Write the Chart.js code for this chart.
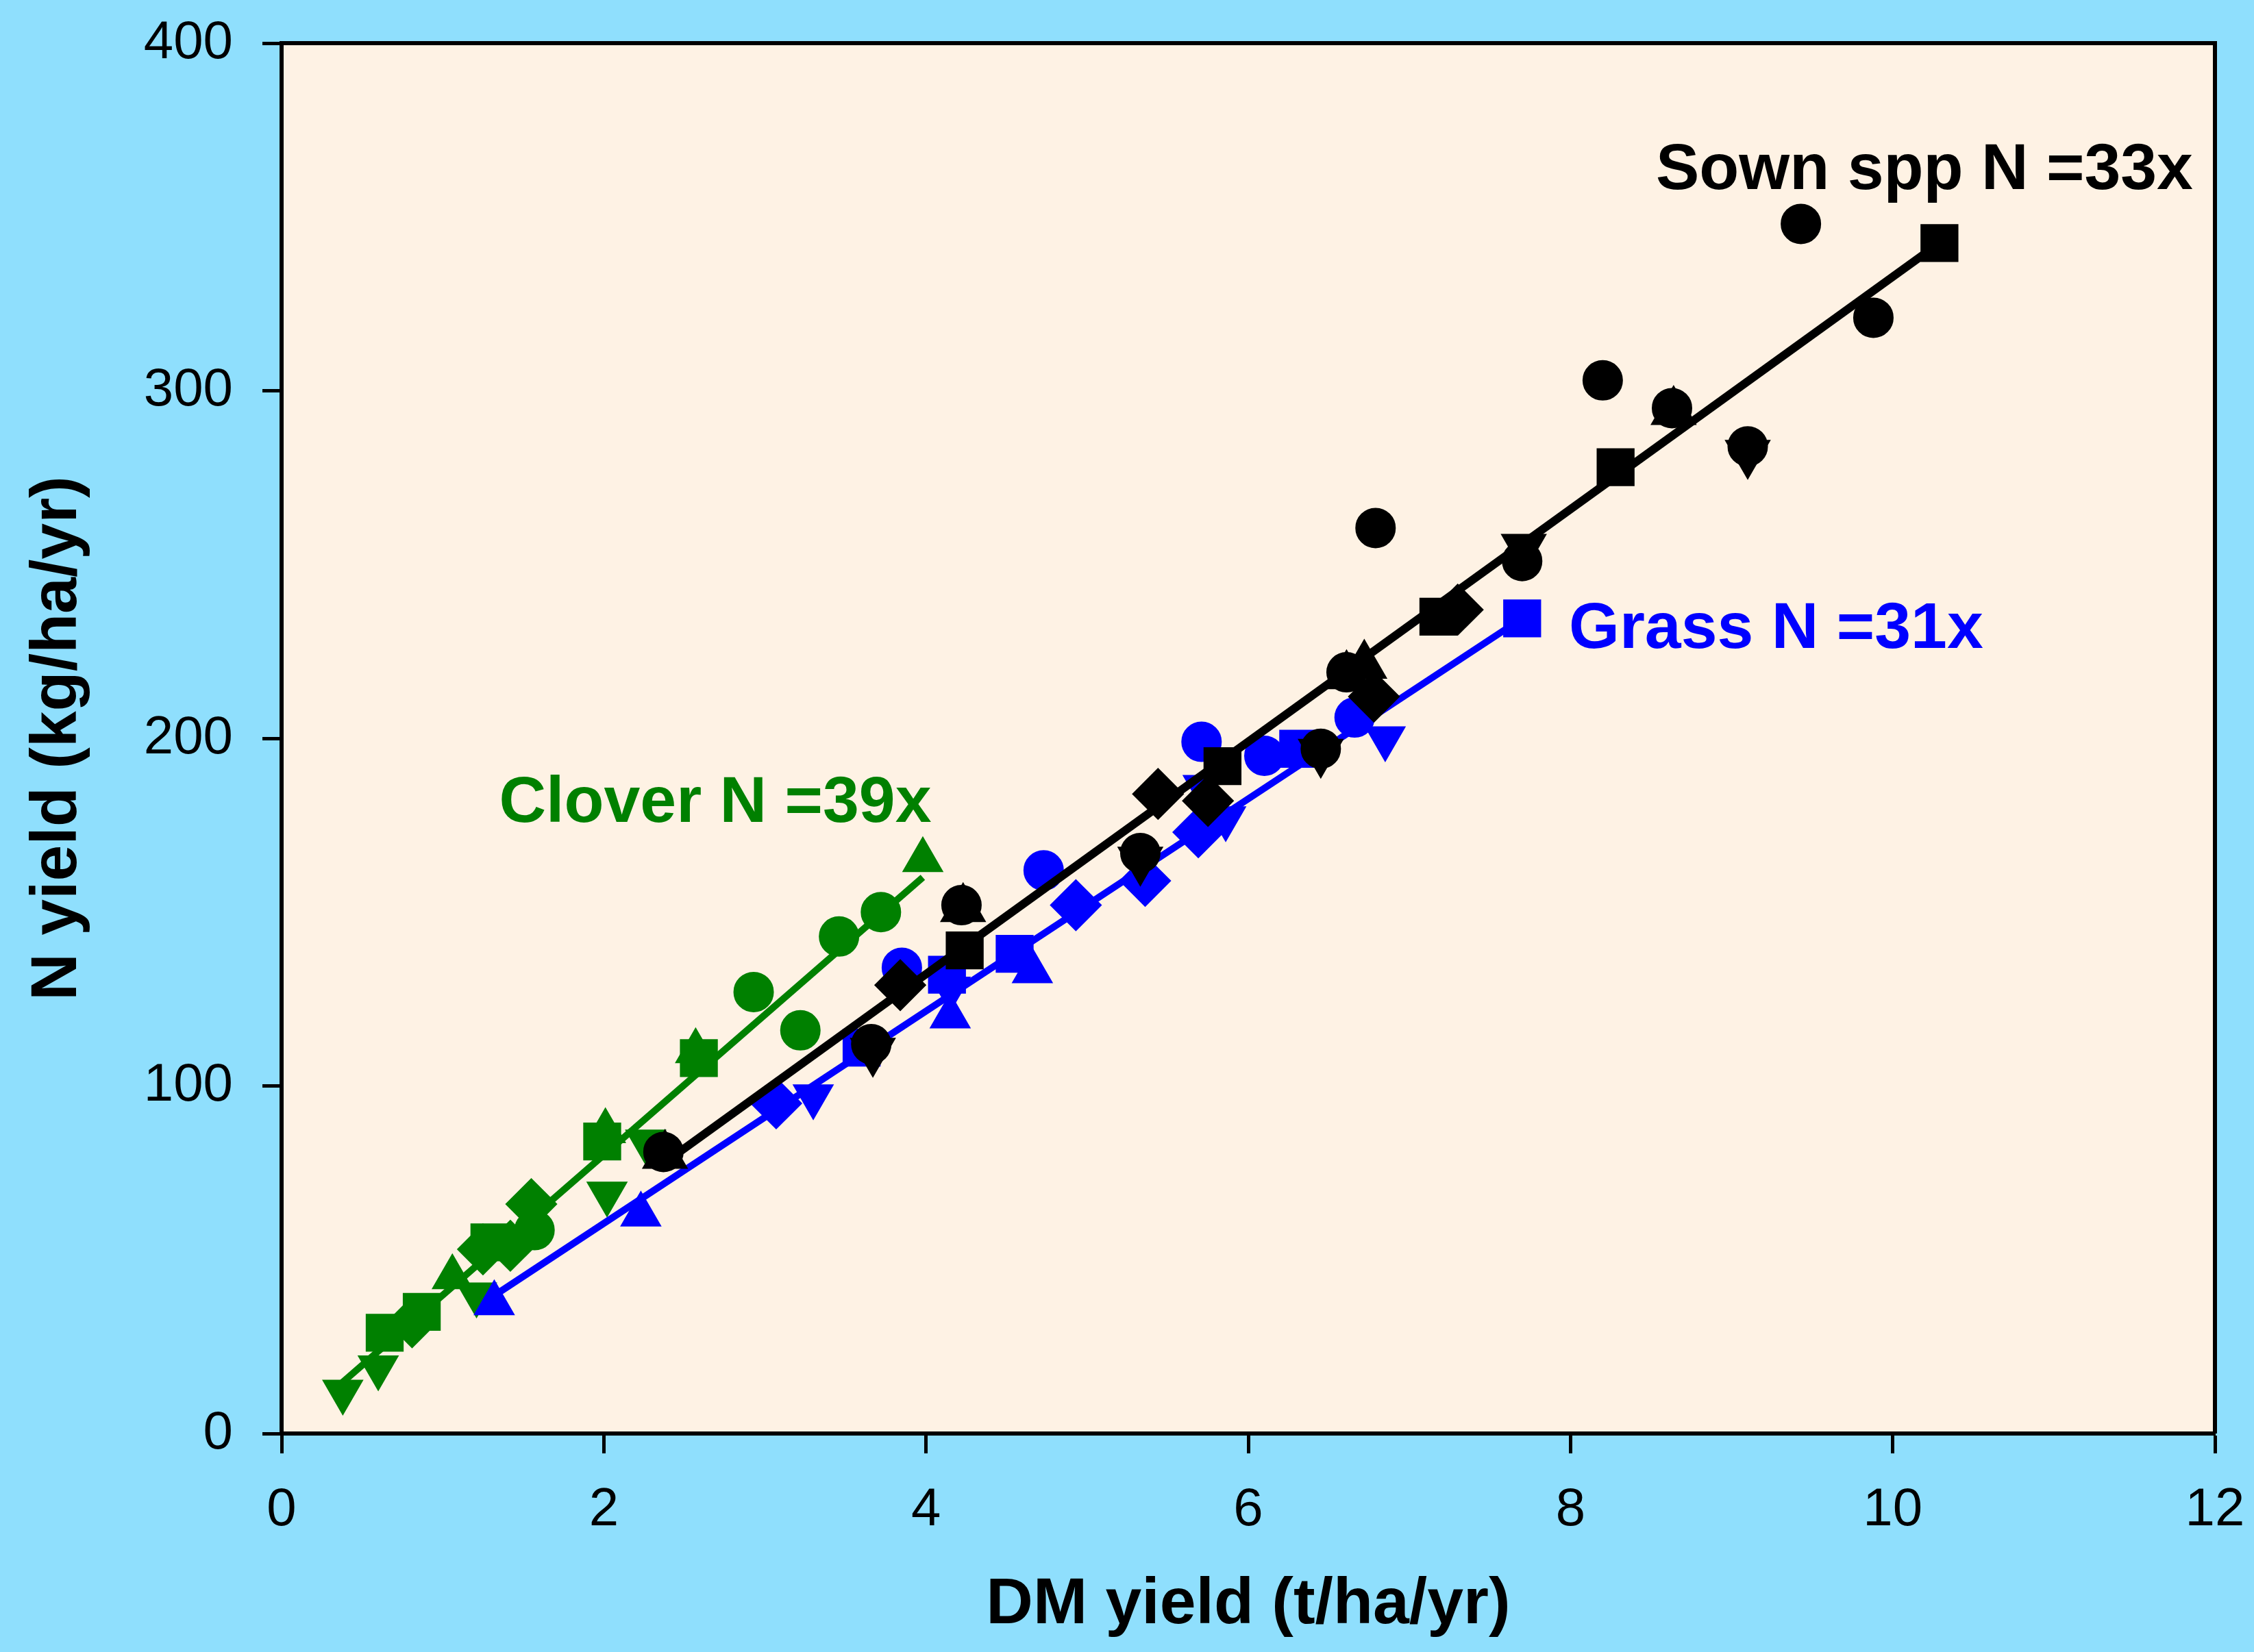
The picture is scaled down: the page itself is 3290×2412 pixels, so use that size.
<!DOCTYPE html>
<html>
<head>
<meta charset="utf-8">
<script src="https://cdn.jsdelivr.net/npm/chart.js@4.4.1/dist/chart.umd.min.js"></script>
<style>
  html, body { margin: 0; padding: 0; background: #8fdffd; }
  canvas { display: block; }
</style>
</head>
<body>
<canvas id="chart" width="3290" height="2412"></canvas>
<script>
// values: [DM yield t/ha/yr, N yield kg/ha/yr]
const cloverCircle  = [[1.57, 58.5], [2.93, 127], [3.22, 116], [3.46, 143], [3.72, 150]];
const cloverSquare  = [[0.64, 29], [0.87, 35], [1.29, 55], [1.99, 84], [2.59, 108]];
const cloverUp      = [[1.06, 45], [2.01, 87], [2.57, 110], [3.98, 165]];
const cloverDown    = [[0.38, 12], [0.60, 19], [1.21, 40], [2.02, 69], [2.26, 84]];
const cloverDiamond = [[0.81, 32], [1.25, 53], [1.42, 54], [1.55, 66]];
const cloverLine    = [[0.36, 14], [3.98, 160]];

const grassCircle  = [[3.85, 134], [4.73, 162], [5.71, 199], [6.10, 195], [6.66, 206]];
const grassSquare  = [[3.60, 111], [4.13, 132], [4.55, 138], [6.31, 197], [7.70, 234.5]];
const grassUp      = [[1.32, 37.5], [2.23, 63], [4.15, 120], [4.66, 133]];
const grassDown    = [[3.30, 97], [4.15, 128], [5.72, 186], [5.86, 177], [6.85, 200]];
const grassDiamond = [[3.07, 95], [4.93, 152], [5.36, 159], [5.69, 173]];
const grassLine    = [[1.33, 40], [7.70, 234.5]];

const sownCircle  = [[2.37, 81], [3.66, 112], [4.22, 152], [5.33, 167], [6.45, 197], [6.61, 219],
                     [6.79, 260.5], [7.70, 251], [8.20, 303], [8.63, 295], [9.10, 284], [9.43, 348], [9.88, 321]];
const sownSquare  = [[4.24, 139], [5.84, 192], [7.18, 235], [8.28, 278], [10.29, 342.5]];
const sownUp      = [[2.38, 80], [4.23, 151], [6.61, 218], [6.72, 221], [8.64, 294]];
const sownDown    = [[3.67, 110], [5.33, 165], [6.45, 196], [7.71, 255], [9.10, 282]];
const sownDiamond = [[3.84, 129], [5.44, 184], [5.75, 182], [6.78, 212], [7.30, 237]];
const sownLine    = [[2.38, 78], [10.29, 342.5]];

const xTicks = [0, 2, 4, 6, 8, 10, 12];
const yTicks = [0, 100, 200, 300, 400];

const notes = [
    { text: 'Sown spp N =33x', x: 8.53, y: 358, color: '#000000' },
    { text: 'Grass N =31x', x: 7.99, y: 226, color: '#0000ff' },
    { text: 'Clover N =39x', x: 1.35, y: 176, color: '#008000' }
];

const GREEN = '#008000', BLUE = '#0000ff', BLACK = '#000000';
const FONT = '"Liberation Sans", Arial, sans-serif';

const shapes = {
    circle:  { style: 'circle',  radius: 28, rotation: 0 },
    square:  { style: 'rect',    radius: 37, rotation: 0 },
    up:      { style: 'triangle', radius: 32, rotation: 0 },
    down:    { style: 'triangle', radius: 32, rotation: 180 },
    diamond: { style: 'rectRot', radius: 36, rotation: 0 }
};

function pts(pairs) {
    return pairs.map(p => ({ x: p[0], y: p[1] }));
}

function markers(pairs, color, shape, order, size) {
    const s = shapes[shape];
    const r = size || s.radius;
    return {
        data: pts(pairs),
        showLine: false,
        pointStyle: s.style,
        pointRadius: r,
        pointHoverRadius: r,
        pointRotation: s.rotation,
        backgroundColor: color,
        borderColor: color,
        borderWidth: 3,
        order: order
    };
}

function fitLine(pairs, color, width, order) {
    return {
        data: pts(pairs),
        showLine: true,
        pointRadius: 0,
        borderColor: color,
        borderWidth: width,
        fill: false,
        order: order
    };
}

const datasets = [
    markers(sownCircle, BLACK, 'circle', 1),
    markers(sownSquare, BLACK, 'square', 1),
    markers(sownUp, BLACK, 'up', 1, 36),
    markers(sownDown, BLACK, 'down', 1, 36),
    markers(sownDiamond, BLACK, 'diamond', 1),
    fitLine(sownLine, BLACK, 12, 2),
    markers(grassCircle, BLUE, 'circle', 3),
    markers(grassSquare, BLUE, 'square', 3),
    markers(grassUp, BLUE, 'up', 3),
    markers(grassDown, BLUE, 'down', 3),
    markers(grassDiamond, BLUE, 'diamond', 3),
    fitLine(grassLine, BLUE, 10, 4),
    markers(cloverCircle, GREEN, 'circle', 5),
    markers(cloverSquare, GREEN, 'square', 5),
    markers(cloverUp, GREEN, 'up', 5),
    markers(cloverDown, GREEN, 'down', 5),
    markers(cloverDiamond, GREEN, 'diamond', 5),
    fitLine(cloverLine, GREEN, 10, 6)
];

// background, plot frame and the slope notes
const framePlugin = {
    id: 'frame',
    beforeDraw(chart) {
        const c = chart.ctx, a = chart.chartArea;
        c.save();
        c.fillStyle = '#8fdffd';
        c.fillRect(0, 0, chart.width, chart.height);
        c.fillStyle = '#fef2e4';
        c.fillRect(a.left, a.top, a.right - a.left, a.bottom - a.top);
        c.restore();
    },
    afterDraw(chart) {
        const c = chart.ctx, a = chart.chartArea;
        c.save();
        c.strokeStyle = '#000';
        c.lineWidth = 6;
        c.beginPath();
        c.moveTo(a.left, a.top);
        c.lineTo(a.right, a.top);
        c.lineTo(a.right, a.bottom);
        c.stroke();

        c.font = 'bold 95px ' + FONT;
        c.textAlign = 'left';
        c.textBaseline = 'alphabetic';
        notes.forEach(n => {
            c.fillStyle = n.color;
            c.fillText(n.text, chart.scales.x.getPixelForValue(n.x), chart.scales.y.getPixelForValue(n.y));
        });
        c.restore();
    }
};

// keep the plot box where the picture has it: no extra room for overhanging labels
function noOverhang(scale) {
    scale.paddingLeft = 0;
    scale.paddingRight = 0;
    scale.paddingTop = 0;
    scale.paddingBottom = 0;
}

const ctx = document.getElementById('chart');

new Chart(ctx, {
    type: 'scatter',
    data: { datasets: datasets },
    plugins: [framePlugin],
    options: {
        responsive: false,
        devicePixelRatio: 1,
        animation: false,
        layout: { padding: { left: 0, top: 63, right: 57, bottom: 0 } },
        plugins: {
            legend: { display: false },
            tooltip: { enabled: false }
        },
        scales: {
            x: {
                type: 'linear',
                min: 0,
                max: 12,
                afterBuildTicks: (scale) => { scale.ticks = xTicks.map(v => ({ value: v })); },
                afterFit: (scale) => { scale.height = 319; noOverhang(scale); },
                grid: { drawOnChartArea: false, drawTicks: true, tickLength: 29, tickWidth: 5, tickColor: '#000' },
                border: { display: true, color: '#000', width: 6 },
                ticks: { color: '#000', padding: 37, font: { family: FONT, size: 78 } },
                title: {
                    display: true,
                    text: 'DM yield (t/ha/yr)',
                    color: '#000',
                    font: { family: FONT, size: 95, weight: 'bold' },
                    padding: { top: 0, bottom: 11 }
                }
            },
            y: {
                type: 'linear',
                min: 0,
                max: 400,
                afterBuildTicks: (scale) => { scale.ticks = yTicks.map(v => ({ value: v })); },
                afterFit: (scale) => { scale.width = 411; noOverhang(scale); },
                grid: { drawOnChartArea: false, drawTicks: true, tickLength: 28, tickWidth: 5, tickColor: '#000' },
                border: { display: true, color: '#000', width: 6 },
                ticks: { color: '#000', padding: 43, font: { family: FONT, size: 78 } },
                title: {
                    display: true,
                    text: 'N yield (kg/ha/yr)',
                    color: '#000',
                    font: { family: FONT, size: 95, weight: 'bold' },
                    padding: { top: 28, bottom: 0 }
                }
            }
        }
    }
});
</script>
</body>
</html>
